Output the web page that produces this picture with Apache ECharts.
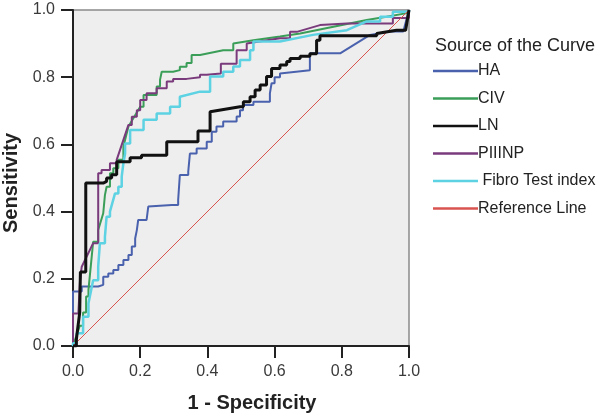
<!DOCTYPE html>
<html>
<head>
<meta charset="utf-8">
<script src="https://cdn.jsdelivr.net/npm/echarts@6/dist/echarts.min.js"></script>
<style>html,body{margin:0;padding:0;background:#fff}#c{width:600px;height:418px}</style>
</head>
<body>
<div id="c"></div>
<script>
const seriesNames = ["HA", "CIV", "LN", "PIIINP", "Fibro Test index", "Reference Line"];
const axisTicks = [0, 0.2, 0.4, 0.6, 0.8, 1.0];

const HA = [[0,0],[0,0.162],[0.026,0.162],[0.026,0.177],[0.075,0.182],[0.09,0.206],[0.105,0.216],[0.12,0.226],[0.135,0.241],[0.15,0.256],[0.165,0.271],[0.175,0.296],[0.185,0.32],[0.19,0.345],[0.194,0.375],[0.219,0.38],[0.224,0.415],[0.294,0.42],[0.313,0.435],[0.318,0.509],[0.343,0.519],[0.348,0.573],[0.368,0.588],[0.398,0.608],[0.413,0.638],[0.427,0.653],[0.447,0.668],[0.487,0.683],[0.497,0.702],[0.506,0.717],[0.537,0.727],[0.576,0.727],[0.586,0.752],[0.591,0.782],[0.60,0.80],[0.616,0.811],[0.705,0.821],[0.705,0.871],[0.795,0.871],[0.884,0.926],[0.943,0.936],[0.983,0.94],[1,1]];

const CIV = [[0,0],[0.02,0.06],[0.03,0.1],[0.039,0.147],[0.046,0.167],[0.06,0.31],[0.075,0.345],[0.09,0.395],[0.095,0.449],[0.1,0.474],[0.11,0.514],[0.12,0.529],[0.135,0.554],[0.15,0.593],[0.165,0.653],[0.2,0.712],[0.21,0.747],[0.249,0.772],[0.259,0.792],[0.264,0.816],[0.298,0.821],[0.318,0.831],[0.338,0.842],[0.353,0.866],[0.378,0.871],[0.447,0.88],[0.477,0.9],[0.537,0.91],[0.616,0.921],[0.676,0.93],[0.775,0.95],[0.874,0.97],[0.933,0.98],[0.99,0.99],[1,1]];

const LN = [[0,0],[0.01,0.02],[0.02,0.1],[0.022,0.22],[0.038,0.22],[0.038,0.485],[0.08,0.485],[0.09,0.49],[0.1,0.50],[0.115,0.51],[0.13,0.53],[0.13,0.548],[0.17,0.548],[0.17,0.56],[0.204,0.56],[0.204,0.568],[0.279,0.568],[0.279,0.608],[0.372,0.608],[0.372,0.64],[0.408,0.64],[0.408,0.697],[0.497,0.712],[0.507,0.727],[0.527,0.742],[0.542,0.762],[0.557,0.777],[0.576,0.802],[0.591,0.826],[0.616,0.836],[0.636,0.847],[0.646,0.856],[0.676,0.862],[0.705,0.87],[0.725,0.91],[0.735,0.923],[0.904,0.923],[0.904,0.93],[0.963,0.94],[0.99,0.945],[1,1]];

const PIIINP = [[0,0],[0,0.097],[0.016,0.097],[0.021,0.196],[0.026,0.236],[0.06,0.306],[0.075,0.335],[0.075,0.514],[0.085,0.524],[0.11,0.529],[0.11,0.544],[0.13,0.554],[0.165,0.658],[0.175,0.682],[0.19,0.702],[0.2,0.732],[0.219,0.752],[0.249,0.767],[0.279,0.787],[0.298,0.795],[0.338,0.800],[0.378,0.807],[0.398,0.811],[0.44,0.84],[0.487,0.88],[0.517,0.9],[0.616,0.916],[0.646,0.935],[0.666,0.94],[0.735,0.955],[0.815,0.96],[0.904,0.96],[0.952,0.976],[1,1]];

const FIBRO = [[0,0],[0,0.008],[0.011,0.038],[0.03,0.087],[0.046,0.127],[0.06,0.196],[0.075,0.236],[0.08,0.306],[0.095,0.325],[0.1,0.385],[0.11,0.4],[0.125,0.454],[0.135,0.474],[0.145,0.504],[0.15,0.544],[0.155,0.573],[0.155,0.603],[0.17,0.643],[0.21,0.673],[0.249,0.692],[0.289,0.712],[0.318,0.742],[0.378,0.757],[0.408,0.762],[0.408,0.802],[0.447,0.816],[0.477,0.832],[0.497,0.851],[0.527,0.88],[0.537,0.906],[0.616,0.906],[0.714,0.926],[0.815,0.94],[0.874,0.966],[0.914,0.98],[0.952,0.995],[1,1]];

const REF = [[0,0],[1,1]];

const colors = ["#4a62ae", "#3a9e58", "#111111", "#7a3b7c", "#5cd2e2", "#d9534f"];
const widths = [2, 2, 3, 2, 2.5, 1];
const dataSets = [HA, CIV, LN, PIIINP, FIBRO, REF];

// small moves become horizontal-then-vertical steps; long ones stay straight (tied cases)
function staircase(pts) {
  const out = [pts[0]];
  for (let i = 1; i < pts.length; i++) {
    const p0 = pts[i - 1], p1 = pts[i];
    const dx = p1[0] - p0[0], dy = p1[1] - p0[1];
    if (dx > 0.003 && dy > 0.003 && dx <= 0.05 && dy <= 0.05) out.push([p1[0], p0[1]]);
    out.push(p1);
  }
  return out;
}

const chart = echarts.init(document.getElementById('c'), null, {renderer: 'canvas'});
const FONT = 'Liberation Sans, Arial, sans-serif';
const axisCommon = {
  type: 'value', min: 0, max: 1, interval: 0.2,
  axisLine: {show: true, lineStyle: {color: '#222', width: 2}},
  axisTick: {show: true, length: 12, lineStyle: {color: '#222', width: 2}},
  axisLabel: {color: '#3a3a3a', fontSize: 16, fontFamily: FONT, margin: 18,
    formatter: v => axisTicks.some(t => Math.abs(t - v) < 1e-9) ? v.toFixed(1) : ''},
  splitLine: {show: false},
  nameLocation: 'middle',
  nameTextStyle: {color: '#222', fontSize: 20, fontWeight: 'bold', fontFamily: FONT}
};
chart.setOption({
  animation: false,
  backgroundColor: '#ffffff',
  grid: {left: 73, right: 191, top: 10, bottom: 72, containLabel: false, outerBoundsMode: 'none',
    show: true, backgroundColor: '#eeeeee', borderColor: '#8a8a8a', borderWidth: 1.5},
  xAxis: Object.assign({}, axisCommon, {name: '1 - Specificity', nameGap: 47,
    nameTextStyle: Object.assign({}, axisCommon.nameTextStyle, {padding: [0, 0, 0, 22]})}),
  yAxis: Object.assign({}, axisCommon, {name: 'Sensitivity', nameGap: 51, nameRotate: 90,
    nameTextStyle: Object.assign({}, axisCommon.nameTextStyle, {padding: [0, 10, 0, 0]})}),
  legend: {
    orient: 'vertical', left: 433, top: 63, padding: 0, itemWidth: 45, itemHeight: 2.5, itemGap: 11.5,
    icon: 'rect',
    data: seriesNames,
    formatter: n => n === 'Fibro Test index' ? ' ' + n : n,
    textStyle: {color: '#222', fontSize: 16, fontFamily: FONT, padding: [0, 0, 0, -5]}
  },
  graphic: [{
    type: 'text', left: 435, top: 37,
    style: {text: 'Source of the Curve', fill: '#222', fontSize: 18, fontFamily: FONT}
  }],
  series: dataSets.map((d, i) => ({
    name: seriesNames[i], type: 'line', data: i === 5 ? d : staircase(d), showSymbol: false, symbol: 'none',
    lineStyle: {color: colors[i], width: widths[i]}, itemStyle: {color: colors[i]},
    z: i === 2 ? 3 : 2
  }))
});
</script>
</body>
</html>
